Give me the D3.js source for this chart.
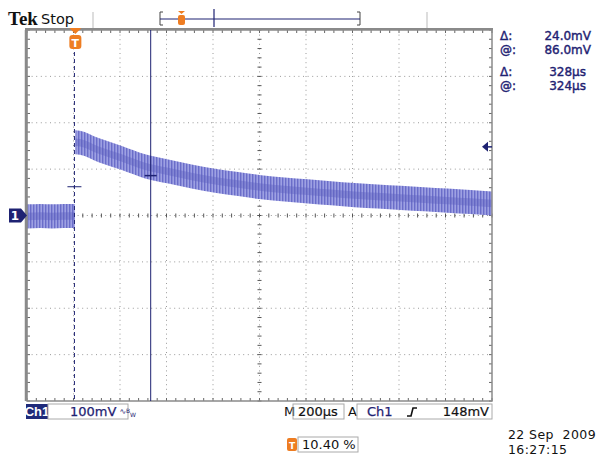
<!DOCTYPE html>
<html>
<head>
<meta charset="utf-8">
<script src="https://cdn.jsdelivr.net/npm/d3@7"></script>
<style>
  body { margin: 0; background: #fff; }
  svg text { font-family: "DejaVu Sans", sans-serif; }
</style>
</head>
<body>
<div class="chart-container"></div>
<script>
/********** the Data **********/
// graticule, in µs (from trigger) and mV
const gridUs = [-208, -8, 192, 392, 592, 792, 992, 1192, 1392, 1592, 1792];
const gridMv = [-400, -300, -200, -100, 0, 100, 200, 300, 400];

// pre-trigger trace (flat around ground)
const preUs = [-208, -150, -100, -50, -2];
const preMv = [-2, -1, -2, -1, -1];

// post-trigger decay
const postUs = [0, 20, 100, 200, 300, 400, 500, 600, 700, 800, 900, 1000,
                1100, 1200, 1300, 1400, 1500, 1600, 1700, 1792];
const postMv = [158, 157, 141, 124, 106, 95, 84, 75, 68, 61, 56, 52,
                48, 44, 41, 38, 35, 32, 29, 26];
const noiseMv = 26;   // half height of the noisy band

// cursors and trigger
const cursorUs = [-4, 324];
const cursorMv = [62, 86];
const triggerLevelMv = 148;

// readouts, two blocks of two rows
const readoutLabels = [["\u0394:", "@:"], ["\u0394:", "@:"]];
const readoutValues = [["24.0mV", "86.0mV"], ["328\u00b5s", "324\u00b5s"]];

/********** drawChart **********/
function drawChart() {
  let width = 604, height = 456;
  let navy = "#1e2272";
  let orange = "#ee7d22";

  let xScale = d3.scaleLinear().domain([-208, 1792]).range([27, 492]);
  let yScale = d3.scaleLinear().domain([-400, 400]).range([401, 30]);
  let x0 = xScale(-208), x1 = xScale(1792), yTop = yScale(400), yBot = yScale(-400);

  let svg = d3.select(".chart-container").append("svg")
    .attr("width", width).attr("height", height);

  let defs = svg.append("defs");
  let pat = defs.append("pattern")
    .attr("id", "stripes").attr("patternUnits", "userSpaceOnUse")
    .attr("width", 3).attr("height", 6);
  pat.append("rect").attr("width", 3).attr("height", 6).attr("fill", "#9ea1e3");
  pat.append("rect").attr("width", 1.4).attr("height", 6).attr("fill", "#6a6dc9");
  defs.append("filter").attr("id", "soft")
    .append("feGaussianBlur").attr("stdDeviation", 0.7);
  defs.append("clipPath").attr("id", "plot")
    .append("rect").attr("x", x0).attr("y", yTop).attr("width", x1 - x0).attr("height", yBot - yTop);

  /***** graticule *****/
  let grid = svg.append("g").attr("class", "grid");
  grid.selectAll(".vline").data(gridUs.slice(1, -1)).enter().append("line")
    .attr("x1", d => xScale(d)).attr("x2", d => xScale(d))
    .attr("y1", yTop).attr("y2", yBot)
    .attr("stroke", "#9a9a9a").attr("stroke-dasharray", "1,3.6");
  grid.selectAll(".hline").data(gridMv.slice(1, -1)).enter().append("line")
    .attr("y1", d => yScale(d)).attr("y2", d => yScale(d))
    .attr("x1", x0).attr("x2", x1)
    .attr("stroke", "#9a9a9a").attr("stroke-dasharray", "1,3.6");

  // minor ticks (5 per division) on the centre lines and the border
  let minorUs = d3.range(-208, 1793, 40);
  let minorMv = d3.range(-400, 401, 20);
  let cx = xScale(792), cy = yScale(0);
  grid.selectAll(".tx").data(minorUs).enter().append("line")
    .attr("x1", d => xScale(d)).attr("x2", d => xScale(d))
    .attr("y1", cy - 2).attr("y2", cy + 2).attr("stroke", "#555");
  grid.selectAll(".ty").data(minorMv).enter().append("line")
    .attr("y1", d => yScale(d)).attr("y2", d => yScale(d))
    .attr("x1", cx - 2).attr("x2", cx + 2).attr("stroke", "#555");
  grid.selectAll(".bt").data(minorUs).enter().append("line")
    .attr("x1", d => xScale(d)).attr("x2", d => xScale(d))
    .attr("y1", yBot - 3).attr("y2", yBot).attr("stroke", "#666");
  grid.selectAll(".tt").data(minorUs).enter().append("line")
    .attr("x1", d => xScale(d)).attr("x2", d => xScale(d))
    .attr("y1", yTop).attr("y2", yTop + 3).attr("stroke", "#666");
  grid.selectAll(".lt").data(minorMv).enter().append("line")
    .attr("y1", d => yScale(d)).attr("y2", d => yScale(d))
    .attr("x1", x0).attr("x2", x0 + 3).attr("stroke", "#666");
  grid.selectAll(".rt").data(minorMv).enter().append("line")
    .attr("y1", d => yScale(d)).attr("y2", d => yScale(d))
    .attr("x1", x1 - 3).attr("x2", x1).attr("stroke", "#666");

  /***** trace *****/
  let trace = svg.append("g").attr("clip-path", "url(#plot)");
  let pre = preUs.map((t, i) => ({t: t, v: preMv[i]}));
  let post = postUs.map((t, i) => ({t: t, v: postMv[i]}));
  let band = d3.area().curve(d3.curveMonotoneX)
    .x(d => xScale(d.t))
    .y0(d => yScale(d.v - noiseMv)).y1(d => yScale(d.v + noiseMv));
  let core = d3.area().curve(d3.curveMonotoneX)
    .x(d => xScale(d.t))
    .y0(d => yScale(d.v - 8)).y1(d => yScale(d.v + 8));
  [pre, post].forEach(seg => {
    trace.append("path").datum(seg).attr("d", band)
      .attr("fill", "url(#stripes)").attr("filter", "url(#soft)");
    trace.append("path").datum(seg).attr("d", core)
      .attr("fill", "#5b5ebf").attr("opacity", 0.4).attr("filter", "url(#soft)");
  });

  /***** frame *****/
  svg.append("rect")
    .attr("x", x0).attr("y", yTop).attr("width", x1 - x0).attr("height", yBot - yTop)
    .attr("fill", "none").attr("stroke", "#8a8a8a").attr("stroke-width", 1.5);
  svg.append("line").attr("x1", x0 - 2).attr("x2", x1 + 1).attr("y1", yTop - 1).attr("y2", yTop - 1)
    .attr("stroke", "#8a8a8a").attr("stroke-width", 2);
  svg.append("line").attr("x1", x0 - 1).attr("x2", x0 - 1).attr("y1", yTop).attr("y2", yBot)
    .attr("stroke", "#8a8a8a").attr("stroke-width", 2.5);

  /***** cursors *****/
  svg.append("line")
    .attr("x1", xScale(cursorUs[0])).attr("x2", xScale(cursorUs[0]))
    .attr("y1", 52).attr("y2", yBot)
    .attr("stroke", navy).attr("stroke-dasharray", "4,3");
  svg.append("line")
    .attr("x1", xScale(cursorUs[1])).attr("x2", xScale(cursorUs[1]))
    .attr("y1", yTop).attr("y2", yBot)
    .attr("stroke", navy);
  svg.append("line")
    .attr("x1", xScale(cursorUs[0]) - 7).attr("x2", xScale(cursorUs[0]) + 7)
    .attr("y1", yScale(cursorMv[0])).attr("y2", yScale(cursorMv[0]))
    .attr("stroke", navy);
  svg.append("line")
    .attr("x1", xScale(cursorUs[1]) - 6).attr("x2", xScale(cursorUs[1]) + 6)
    .attr("y1", yScale(cursorMv[1])).attr("y2", yScale(cursorMv[1]))
    .attr("stroke", navy).attr("stroke-width", 1.5);

  /***** trigger markers *****/
  let tx = xScale(0);
  svg.append("path")
    .attr("d", `M${tx - 6},28 L${tx + 6},28 L${tx},34 Z`).attr("fill", orange);
  svg.append("rect").attr("x", tx - 6).attr("y", 35).attr("width", 12).attr("height", 14)
    .attr("rx", 3).attr("fill", orange);
  svg.append("text").attr("x", tx).attr("y", 46.5).attr("text-anchor", "middle")
    .attr("font-size", 11).attr("font-weight", "bold").attr("fill", "#fff").text("T");

  // trigger level arrow on right edge
  let ty = yScale(triggerLevelMv);
  svg.append("path")
    .attr("d", `M${x1 - 10},${ty} L${x1 - 4},${ty - 5} L${x1 - 4},${ty + 5} Z`)
    .attr("fill", navy);
  svg.append("line").attr("x1", x1 - 5).attr("x2", x1).attr("y1", ty).attr("y2", ty)
    .attr("stroke", navy).attr("stroke-width", 1.5);

  // channel 1 ground marker
  let gy = yScale(0);
  svg.append("path")
    .attr("d", `M9,${gy - 7} L21,${gy - 7} L27,${gy} L21,${gy + 7} L9,${gy + 7} Z`)
    .attr("fill", navy);
  svg.append("text").attr("x", 15).attr("y", gy + 4.5).attr("text-anchor", "middle")
    .attr("font-size", 12).attr("font-weight", "bold").attr("fill", "#fff").text("1");

  /***** header *****/
  svg.append("text").attr("x", 8).attr("y", 25)
    .style("font-family", "'Liberation Serif', serif").attr("font-weight", "bold")
    .attr("font-size", 19).attr("fill", "#111").text("Tek");
  svg.append("text").attr("x", 41).attr("y", 24)
    .attr("font-size", 14.5).attr("fill", "#111").text("Stop");
  [93, 427].forEach(x => {
    svg.append("line").attr("x1", x).attr("x2", x).attr("y1", 12).attr("y2", 28)
      .attr("stroke", "#bbb");
  });
  // record view bar
  svg.append("path").attr("d", "M163,12 L160,12 L160,25 L163,25")
    .attr("fill", "none").attr("stroke", "#444");
  svg.append("path").attr("d", "M357,12 L360,12 L360,25 L357,25")
    .attr("fill", "none").attr("stroke", "#444");
  svg.append("line").attr("x1", 160).attr("x2", 360).attr("y1", 19).attr("y2", 19)
    .attr("stroke", navy).attr("stroke-width", 1.2);
  svg.append("line").attr("x1", 214).attr("x2", 214).attr("y1", 9).attr("y2", 27)
    .attr("stroke", navy).attr("stroke-width", 1.2);
  svg.append("rect").attr("x", 178).attr("y", 15).attr("width", 7).attr("height", 10)
    .attr("rx", 2).attr("fill", orange);
  svg.append("path").attr("d", "M178,11 L185,11 L181.5,14 Z").attr("fill", orange);

  /***** readouts *****/
  let blockY = [[40, 54], [76, 90]];
  let valueX = [591, 586];
  readoutLabels.forEach((rows, b) => {
    rows.forEach((lab, r) => {
      let t = svg.append("text").attr("font-size", 12).attr("fill", navy)
        .attr("stroke", navy).attr("stroke-width", 0.4);
      t.append("tspan").attr("x", 500).attr("y", blockY[b][r]).text(lab);
      t.append("tspan").attr("x", valueX[b]).attr("y", blockY[b][r])
        .attr("text-anchor", "end").text(readoutValues[b][r]);
    });
  });

  /***** bottom status bar *****/
  let by = 404, bh = 15;
  svg.append("rect").attr("x", 26).attr("y", by).attr("width", 22).attr("height", bh)
    .attr("fill", "#1f2a7a");
  svg.append("text").attr("x", 37).attr("y", by + 12).attr("text-anchor", "middle")
    .style("font-family", "'Liberation Sans', sans-serif").attr("font-size", 13)
    .attr("font-weight", "bold").attr("fill", "#fff").text("Ch1");
  svg.append("rect").attr("x", 48).attr("y", by).attr("width", 80).attr("height", bh)
    .attr("fill", "none").attr("stroke", "#aaa");
  // volts/div with the bandwidth-limit symbol, as one text
  let vd = svg.append("text").attr("x", 70).attr("y", by + 12).attr("font-size", 13)
    .attr("fill", navy);
  vd.append("tspan").attr("stroke", navy).attr("stroke-width", 0.25).text("100mV");
  vd.append("tspan").attr("dx", 3).attr("dy", -2).attr("font-size", 8).text("\u223f");
  vd.append("tspan").attr("font-size", 6).attr("dy", -1).text("B");
  vd.append("tspan").attr("font-size", 6).attr("dy", 4).text("W");

  svg.append("text").attr("x", 284).attr("y", by + 12).attr("font-size", 13)
    .attr("fill", "#111").text("M");
  svg.append("rect").attr("x", 293).attr("y", by).attr("width", 51).attr("height", bh)
    .attr("fill", "none").attr("stroke", "#aaa");
  svg.append("text").attr("x", 298).attr("y", by + 12).attr("font-size", 13)
    .attr("fill", "#111").attr("stroke", "#111").attr("stroke-width", 0.2).text("200\u00b5s");
  svg.append("text").attr("x", 348).attr("y", by + 12).attr("font-size", 13)
    .attr("fill", "#111").text("A");
  svg.append("rect").attr("x", 357).attr("y", by).attr("width", 135).attr("height", bh)
    .attr("fill", "none").attr("stroke", "#aaa");
  svg.append("text").attr("x", 367).attr("y", by + 12).attr("font-size", 13)
    .attr("fill", navy).attr("stroke", navy).attr("stroke-width", 0.25).text("Ch1");
  svg.append("path").attr("d", `M407,${by + 12} L411,${by + 12} L413,${by + 4} L417,${by + 4}`)
    .attr("fill", "none").attr("stroke", "#111").attr("stroke-width", 1.6);
  svg.append("text").attr("x", 489).attr("y", by + 12).attr("text-anchor", "end")
    .attr("font-size", 13).attr("fill", "#111").attr("stroke", "#111").attr("stroke-width", 0.2)
    .text("148mV");

  // trigger position
  svg.append("rect").attr("x", 287).attr("y", 438).attr("width", 10).attr("height", 13)
    .attr("rx", 2).attr("fill", orange);
  svg.append("text").attr("x", 292).attr("y", 448.5).attr("text-anchor", "middle")
    .attr("font-size", 9).attr("font-weight", "bold").attr("fill", "#fff").text("T");
  svg.append("rect").attr("x", 298).attr("y", 437).attr("width", 60).attr("height", 15)
    .attr("fill", "none").attr("stroke", "#aaa");
  svg.append("text").attr("x", 302).attr("y", 449).attr("font-size", 13)
    .attr("fill", "#111").text("10.40 %");

  // date and time
  svg.append("text").attr("x", 508).attr("y", 439).attr("font-size", 12.5)
    .attr("fill", "#111").attr("letter-spacing", 0.4).attr("xml:space", "preserve")
    .text("22 Sep  2009");
  svg.append("text").attr("x", 508).attr("y", 454).attr("font-size", 12.5)
    .attr("fill", "#111").attr("letter-spacing", 0.4).text("16:27:15");
}

drawChart();
</script>
</body>
</html>
